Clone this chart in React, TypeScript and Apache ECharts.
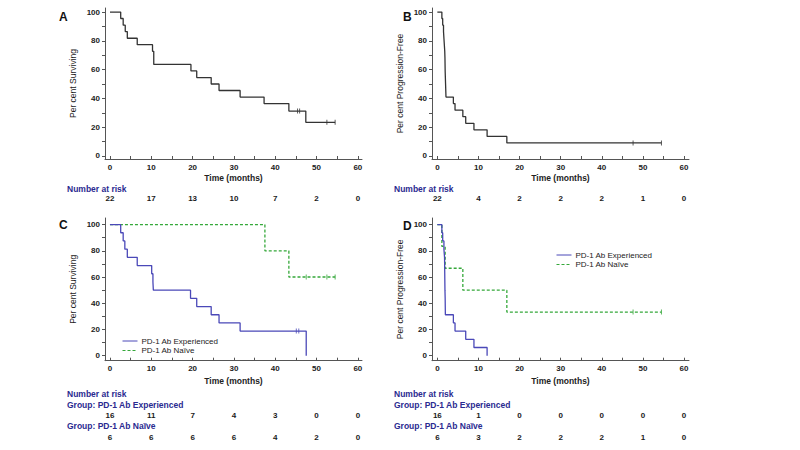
import React, { useEffect, useRef } from 'react';
import * as echarts from 'echarts';

// ---- Data ----
const xTickValues = [0, 10, 20, 30, 40, 50, 60];
const xMinorValues = [0, 5, 10, 15, 20, 25, 30, 35, 40, 45, 50, 55, 60];
const yTickValues = [0, 20, 40, 60, 80, 100];
const yMinorValues = [0, 10, 20, 30, 40, 50, 60, 70, 80, 90, 100];

// Panel A: overall survival
const osTime = [0, 2.6, 3.2, 3.7, 4.2, 6.6, 10.3, 10.6, 19.6, 21, 24.5, 26.4, 31.5, 37.3, 43.3, 47.4, 54.5];
const osSurv = [100, 95.5, 90.9, 86.4, 81.8, 77.3, 72.7, 63.6, 59.1, 54.5, 50, 45.5, 40.9, 36.4, 31.2, 23.4, 23.4];
const osCensorTime = [45.4, 45.9, 52.5, 54.5];
const osCensorSurv = [31.2, 31.2, 23.4, 23.4];
const osAtRisk = [22, 17, 13, 10, 7, 2, 0];

// Panel B: progression-free survival
const pfsTime = [0, 1.1, 1.3, 1.5, 1.6, 1.7, 1.8, 1.85, 1.9, 2.0, 2.1, 3.9, 4.3, 6.2, 6.9, 8.9, 12.1, 16.9, 54.5];
const pfsSurv = [100, 95.5, 90.9, 86.4, 81.8, 77.3, 72.7, 68.2, 59.1, 50, 40.9, 36.4, 31.8, 27.3, 22.7, 18.2, 13.6, 9.1, 9.1];
const pfsCensorTime = [47.6, 54.5];
const pfsCensorSurv = [9.1, 9.1];
const pfsAtRisk = [22, 4, 2, 2, 2, 1, 0];

// Panel C: survival by group
const osExpTime = [0, 2.6, 3.2, 3.6, 4.2, 6.6, 10.1, 10.4, 10.5, 19.5, 21, 24.5, 26.4, 31.5, 47.5];
const osExpSurv = [100, 93.75, 87.5, 81.25, 75, 68.75, 62.5, 56.25, 50, 43.75, 37.5, 31.25, 25, 18.75, 0];
const osExpCensorTime = [45.1, 45.7];
const osExpCensorSurv = [18.75, 18.75];
const osNaiveTime = [0, 37.5, 43.3, 54.5];
const osNaiveSurv = [100, 80, 60, 60];
const osNaiveCensorTime = [47.5, 52.5, 54.5];
const osNaiveCensorSurv = [60, 60, 60];
const osExpAtRisk = [16, 11, 7, 4, 3, 0, 0];
const osNaiveAtRisk = [6, 6, 6, 6, 4, 2, 0];

// Panel D: PFS by group
const pfsExpTime = [0, 1.1, 1.3, 1.6, 1.75, 1.8, 1.85, 1.9, 1.95, 3.9, 4.3, 6.9, 8.9, 12.1];
const pfsExpSurv = [100, 93.75, 87.5, 81.25, 75, 62.5, 50, 43.75, 31.25, 25, 18.75, 12.5, 6.25, 0];
const pfsNaiveTime = [0, 1.1, 1.9, 6.2, 16.9, 54.5];
const pfsNaiveSurv = [100, 83.3, 66.7, 50, 33.3, 33.3];
const pfsNaiveCensorTime = [47.6, 54.5];
const pfsNaiveCensorSurv = [33.3, 33.3];
const pfsExpAtRisk = [16, 1, 0, 0, 0, 0, 0];
const pfsNaiveAtRisk = [6, 3, 2, 2, 2, 1, 0];

const EXP = 'PD-1 Ab Experienced';
const NAIVE = 'PD-1 Ab Naïve';

const FONT = 'Liberation Sans, Arial, sans-serif';
const BLACK = '#333333';
const BLUE = '#4a48b8';
const GREEN = '#35a83a';
const NAVY = '#2a2a90';

const zip = (a: number[], b: number[]) => a.map((v, i) => [v, b[i]]);

export default function App() {
  const ref = useRef<HTMLDivElement>(null);
  useEffect(() => {
    if (!ref.current) return;
    const chart = echarts.init(ref.current, null, { renderer: 'svg' });

    const grids = [
      { left: 105, top: 8, width: 257, height: 151 },
      { left: 432, top: 8, width: 257, height: 151 },
      { left: 105, top: 218, width: 257, height: 142.7 },
      { left: 432, top: 218, width: 257, height: 142.7 },
    ];
    const xRanges = [
      [-1.2, 61],
      [-1.3, 61.2],
      [-1.2, 61],
      [-1.3, 61.2],
    ];
    const yRanges = [
      [-2.1, 102.8],
      [-2.1, 102.8],
      [-3.8, 105],
      [-3.8, 105],
    ];
    const yNames = ['Per cent Surviving', 'Per cent Progression-Free', 'Per cent Surviving', 'Per cent Progression-Free'];

    const xAxis = grids.map((_, i) => ({
      type: 'value',
      gridIndex: i,
      min: xRanges[i][0],
      max: xRanges[i][1],
      name: 'Time (months)',
      nameLocation: 'middle',
      nameGap: i < 2 ? 14 : 16,
      nameTextStyle: { fontFamily: FONT, fontSize: 8.5, fontWeight: 'bold', color: '#222' },
      axisLine: { onZero: false, lineStyle: { color: '#555', width: 1 } },
      axisTick: { show: true, inside: true, length: 3, customValues: xMinorValues, lineStyle: { color: '#555' } },
      axisLabel: { customValues: xTickValues, fontFamily: FONT, fontSize: 8, fontWeight: 'bold', color: '#222', margin: 4 },
      splitLine: { show: false },
    }));
    const yAxis = grids.map((_, i) => ({
      type: 'value',
      gridIndex: i,
      min: yRanges[i][0],
      max: yRanges[i][1],
      name: yNames[i],
      nameLocation: 'middle',
      nameGap: 28,
      nameTextStyle: { fontFamily: FONT, fontSize: 8.5, color: '#222' },
      axisLine: { show: true, onZero: false, lineStyle: { color: '#555', width: 1 } },
      axisTick: { show: true, inside: false, length: 3, customValues: yMinorValues, lineStyle: { color: '#555' } },
      axisLabel: { customValues: yTickValues, fontFamily: FONT, fontSize: 8, fontWeight: 'bold', color: '#222', margin: 5 },
      splitLine: { show: false },
    }));

    const stepLine = (name: string, idx: number, t: number[], s: number[], color: string, dashed = false) => ({
      type: 'line',
      name,
      xAxisIndex: idx,
      yAxisIndex: idx,
      step: 'end',
      symbol: 'none',
      showSymbol: false,
      data: zip(t, s),
      lineStyle: { color, width: 1.3, type: dashed ? [3, 2] : 'solid' },
      itemStyle: { color },
      silent: true,
    });
    const censor = (name: string, idx: number, t: number[], s: number[], color: string) => ({
      type: 'scatter',
      name,
      xAxisIndex: idx,
      yAxisIndex: idx,
      symbol: 'rect',
      symbolSize: [1, 5],
      data: zip(t, s),
      itemStyle: { color },
      silent: true,
    });

    const series = [
      stepLine('OS', 0, osTime, osSurv, BLACK),
      censor('OS censored', 0, osCensorTime, osCensorSurv, BLACK),
      stepLine('PFS', 1, pfsTime, pfsSurv, BLACK),
      censor('PFS censored', 1, pfsCensorTime, pfsCensorSurv, BLACK),
      stepLine(NAIVE, 2, osNaiveTime, osNaiveSurv, GREEN, true),
      censor('Naive OS censored', 2, osNaiveCensorTime, osNaiveCensorSurv, GREEN),
      stepLine(EXP, 2, osExpTime, osExpSurv, BLUE),
      censor('Exp OS censored', 2, osExpCensorTime, osExpCensorSurv, BLUE),
      stepLine(NAIVE, 3, pfsNaiveTime, pfsNaiveSurv, GREEN, true),
      censor('Naive PFS censored', 3, pfsNaiveCensorTime, pfsNaiveCensorSurv, GREEN),
      stepLine(EXP, 3, pfsExpTime, pfsExpSurv, BLUE),
    ];

    const legendBase = {
      orient: 'vertical',
      data: [EXP, NAIVE],
      itemWidth: 15,
      itemHeight: 8,
      itemGap: 1.5,
      selectedMode: false,
      itemStyle: { opacity: 0 },
      lineStyle: { width: 1 },
      textStyle: { fontFamily: FONT, fontSize: 8, color: '#222', padding: [0, 0, 0, -1] },
    };

    chart.setOption({
      animation: false,
      backgroundColor: '#ffffff',
      grid: grids.map((g) => ({ ...g, containLabel: false })),
      xAxis,
      yAxis,
      legend: [
        { ...legendBase, left: 117, top: 332 },
        { ...legendBase, left: 551, top: 246 },
      ],
      series,
    });

    // Number-at-risk tables, positioned at the x-axis ticks via the axis scales
    const graphics: any[] = [];
    const letter = (txt: string, x: number, y: number) =>
      graphics.push({
        type: 'text',
        left: x,
        top: y,
        style: { text: txt, font: `bold 12px ${FONT}`, fill: '#111' },
      });
    letter('A', 59, 11);
    letter('B', 403, 11);
    letter('C', 59, 219);
    letter('D', 403, 220);

    const label = (txt: string, x: number, y: number) =>
      graphics.push({
        type: 'text',
        x,
        y,
        style: { text: txt, font: `bold 8.5px ${FONT}`, fill: NAVY, verticalAlign: 'middle', align: 'left' },
      });
    const row = (gridIdx: number, values: number[], y: number) => {
      values.forEach((v, k) => {
        const px = chart.convertToPixel({ xAxisIndex: gridIdx }, xTickValues[k]) as number;
        graphics.push({
          type: 'text',
          x: px,
          y,
          style: { text: String(v), font: `bold 8px ${FONT}`, fill: '#1a1a1a', align: 'center', verticalAlign: 'middle' },
        });
      });
    };

    label('Number at risk', 67, 189);
    row(0, osAtRisk, 198.5);
    label('Number at risk', 394, 189);
    row(1, pfsAtRisk, 198.5);

    label('Number at risk', 67, 394);
    label('Group: ' + EXP, 67, 405);
    row(2, osExpAtRisk, 415.7);
    label('Group: ' + NAIVE, 67, 426);
    row(2, osNaiveAtRisk, 437.3);

    label('Number at risk', 394, 394);
    label('Group: ' + EXP, 394, 405);
    row(3, pfsExpAtRisk, 415.7);
    label('Group: ' + NAIVE, 394, 426);
    row(3, pfsNaiveAtRisk, 437.3);

    chart.setOption({ graphic: graphics });

    return () => chart.dispose();
  }, []);

  return <div ref={ref} style={{ width: 800, height: 450, position: 'absolute', left: 0, top: 0 }} />;
}
